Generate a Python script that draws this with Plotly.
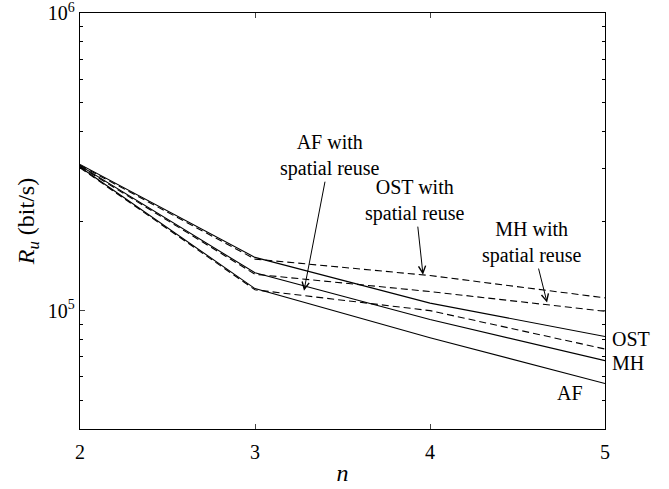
import numpy as np
import plotly.graph_objects as go

n = [2, 3, 4, 5]
ost = [3.10e5, 1.51e5, 1.06e5, 8.18e4]
mh = [3.07e5, 1.34e5, 9.33e4, 6.79e4]
af = [3.04e5, 1.186e5, 8.11e4, 5.69e4]
ost_sr = [3.08e5, 1.49e5, 1.312e5, 1.104e5]
mh_sr = [3.05e5, 1.325e5, 1.159e5, 9.95e4]
af_sr = [3.02e5, 1.175e5, 1.0e5, 7.43e4]

y_major = [1e5, 1e6]
y_major_text = ["10<sup>5</sup>", "10<sup>6</sup>"]
y_minor = [k * 1e4 for k in range(4, 10)] + [k * 1e5 for k in range(2, 10)]

FONT = "Liberation Serif"
fig = go.Figure()
solid = dict(color="black", width=1.1)
dashed = dict(color="black", width=1.1, dash="7px,4px")
for ys in (ost, mh, af):
    fig.add_trace(go.Scatter(x=n, y=ys, mode="lines", line=solid, showlegend=False))
for ys in (ost_sr, mh_sr, af_sr):
    fig.add_trace(go.Scatter(x=n, y=ys, mode="lines", line=dashed, showlegend=False))

fs = 20

anns = []
# labelled arrows: (x, y) = arrow head, (ax, ay) = pixel offset of text centre
anns.append(dict(x=3.28, y=5.067, ax=26, ay=-135, text="AF with<br>spatial reuse", showarrow=True))
anns.append(dict(x=3.96, y=5.121, ax=-8, ay=-74, text="OST with<br>spatial reuse", showarrow=True))
anns.append(dict(x=4.669, y=5.027, ax=-15, ay=-60, text="MH with<br>spatial reuse", showarrow=True))
# end labels
anns.append(dict(x=5, y=4.906, text="OST", showarrow=False, xanchor="left", xshift=5))
anns.append(dict(x=5, y=4.825, text="MH", showarrow=False, xanchor="left", xshift=5))
anns.append(dict(x=4.8, y=4.724, text="AF", showarrow=False))
for a in anns:
    a.update(xref="x", yref="y", font=dict(family=FONT, size=fs, color="black"))
    if a.get("showarrow"):
        a.update(arrowhead=5, arrowsize=1.4, arrowwidth=1, arrowcolor="black", standoff=0)
fig.update_layout(annotations=anns)

fig.update_layout(
    width=669, height=489,
    margin=dict(l=80, r=64, t=13, b=60),
    plot_bgcolor="white", paper_bgcolor="white",
    font=dict(family=FONT, size=fs, color="black"),
    xaxis=dict(
        range=[2, 5], tickvals=n, ticks="inside", ticklen=5, tickwidth=1,
        showline=True, linecolor="black", linewidth=1.3, mirror="allticks",
        showgrid=False, zeroline=False, ticklabelstandoff=5, automargin=False,
        title=dict(text="<i>n</i>", standoff=2),
    ),
    yaxis=dict(
        type="log", range=[np.log10(4e4), 6.0005],
        tickvals=y_major, ticktext=y_major_text, ticklabeloverflow="allow",
        ticks="inside", ticklen=5, tickwidth=1,
        minor=dict(tickvals=y_minor, ticks="inside", ticklen=3, tickwidth=1, tickcolor="black"),
        showline=True, linecolor="black", linewidth=1.3, mirror="allticks",
        showgrid=False, zeroline=False, automargin=False,
        title=dict(text="<i>R</i><sub><i>u</i></sub> (bit/s)", standoff=6),
    ),
)
fig.write_html("out.html", config={"displayModeBar": False},
               post_script="document.body.style.margin='0';document.body.style.overflow='hidden';")
